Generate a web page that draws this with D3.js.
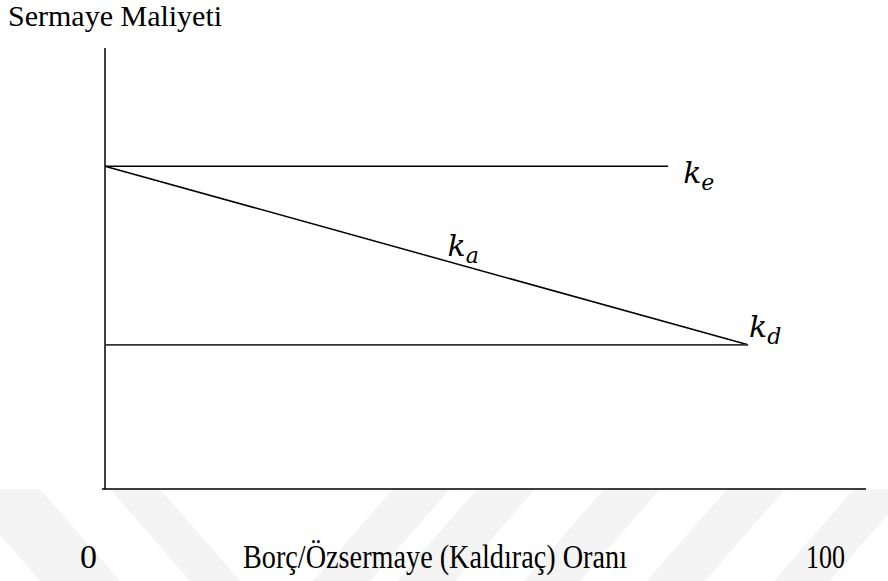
<!DOCTYPE html>
<html>
<head>
<meta charset="utf-8">
<script src="https://cdn.jsdelivr.net/npm/d3@7"></script>
<style>
  body { margin: 0; background: #fff; }
  svg { display: block; }
</style>
</head>
<body>
<div id="chart"></div>
<script>
// cost of capital vs leverage (arbitrary units 0-100)
const leverage = [0, 84.5];
const keValues = [73.2, 73.2];
const kaValues = [73.2, 32.7];
const kdValues = [32.7, 32.7];
const keEnd = 74;
const xTickLabels = ["0", "100"];

const width = 888, height = 581;

const svg = d3.select("#chart")
    .append("svg")
    .attr("width", width)
    .attr("height", height);

// faint watermark stripes in the bottom band
const wm = svg.append("g").attr("fill", "#f4f4f4");
const backStripes = [[-40, 40], [110, 160]];
const fwdStripes = [[393, 450], [477, 535], [604, 660], [727, 785], [854, 910]];
backStripes.forEach(s => {
    wm.append("polygon").attr("points",
        `${s[0]},489 ${s[1]},489 ${s[1] + 80},581 ${s[0] + 80},581`);
});
fwdStripes.forEach(s => {
    wm.append("polygon").attr("points",
        `${s[0]},489 ${s[1]},489 ${s[1] - 80},581 ${s[0] - 80},581`);
});

const x = d3.scaleLinear().domain([0, 100]).range([105, 866]);
const y = d3.scaleLinear().domain([0, 100]).range([489, 48]);

// axes
svg.append("line")
    .attr("x1", x(0)).attr("x2", x(0))
    .attr("y1", y(100)).attr("y2", y(0))
    .attr("stroke", "#000").attr("stroke-width", 1.5);
svg.append("line")
    .attr("x1", x(0) - 3).attr("x2", x(100))
    .attr("y1", y(0)).attr("y2", y(0))
    .attr("stroke", "#000").attr("stroke-width", 1.5);

const line = d3.line()
    .x(d => x(d[0]))
    .y(d => y(d[1]));

svg.append("path")
    .attr("d", line([[0, keValues[0]], [keEnd, keValues[1]]]))
    .attr("fill", "none").attr("stroke", "#000").attr("stroke-width", 1.5);
svg.append("path")
    .attr("d", line(leverage.map((l, i) => [l, kaValues[i]])))
    .attr("fill", "none").attr("stroke", "#000").attr("stroke-width", 1.5);
svg.append("path")
    .attr("d", line(leverage.map((l, i) => [l, kdValues[i]])))
    .attr("fill", "none").attr("stroke", "#333").attr("stroke-width", 1.7);

// k labels
function kLabel(px, py, sub) {
    const t = svg.append("text")
        .attr("x", px).attr("y", py)
        .attr("font-family", "DejaVu Serif, serif")
        .attr("font-style", "italic")
        .attr("font-size", 30)
        .attr("fill", "#000");
    t.append("tspan").text("k");
    t.append("tspan").attr("dy", 7).attr("font-size", 22).text(sub);
}
kLabel(x(keEnd) + 15, y(keValues[0]) + 17, "e");
kLabel(x(45), y(52) - 4, "a");
kLabel(x(leverage[1]) + 1, y(kdValues[1]) - 8, "d");

// title
svg.append("text")
    .attr("x", 8).attr("y", 26)
    .attr("font-family", "Liberation Serif, Times New Roman, serif")
    .attr("font-size", 30)
    .text("Sermaye Maliyeti");

// bottom labels
const bottom = svg.append("g")
    .attr("font-family", "Liberation Serif, Times New Roman, serif")
    .attr("font-size", 34);
bottom.append("text")
    .attr("x", 80).attr("y", 568)
    .text(xTickLabels[0]);
bottom.append("text")
    .attr("x", 243).attr("y", 568)
    .attr("textLength", 384).attr("lengthAdjust", "spacingAndGlyphs")
    .text("Borç/Özsermaye (Kaldıraç) Oranı");
bottom.append("text")
    .attr("x", 806).attr("y", 568)
    .attr("textLength", 39).attr("lengthAdjust", "spacingAndGlyphs")
    .text(xTickLabels[1]);
</script>
</body>
</html>
